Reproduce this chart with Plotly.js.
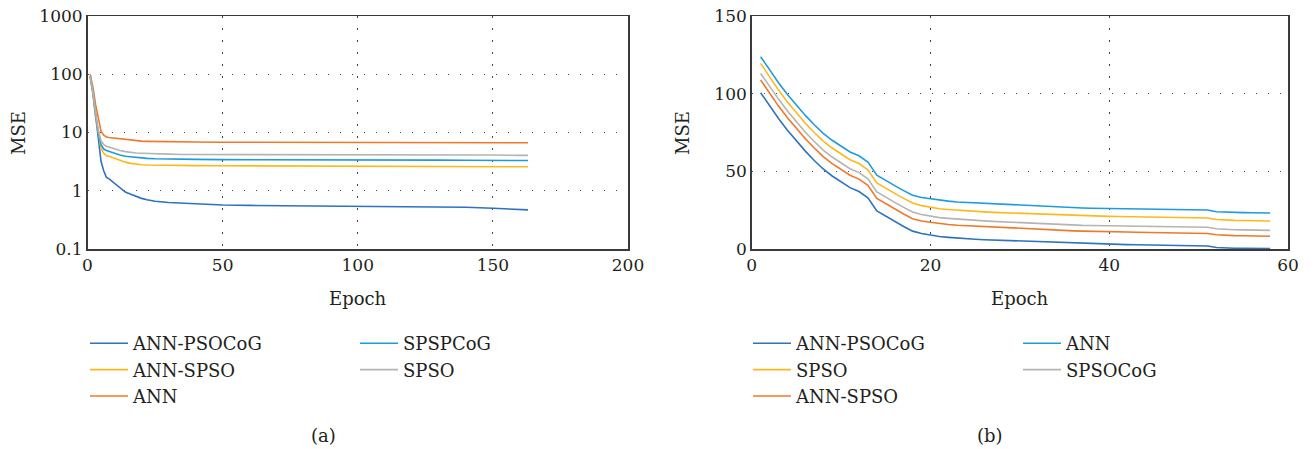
<!DOCTYPE html>
<html>
<head>
<meta charset="utf-8">
<script src="https://cdn.plot.ly/plotly-3.0.1.min.js"></script>
<style>
html,body{margin:0;padding:0;background:#fff;}
#chart{width:1314px;height:449px;}
</style>
</head>
<body>
<div id="chart"></div>
<script>
// ---------- Panel (a): log-scale MSE vs epoch ----------
const epochsA = [1,2,3,4,5,6,7,8,10,12,14,16,18,20,22,25,30,35,40,50,60,70,80,90,100,110,120,130,140,150,160,163];
const a_ANN_PSOCoG = [93,50,20,7,3.2,2.2,1.7,1.6,1.35,1.15,0.95,0.87,0.79,0.74,0.70,0.66,0.63,0.61,0.60,0.57,0.56,0.555,0.55,0.55,0.54,0.54,0.54,0.54,0.52,0.50,0.48,0.47];
const a_SPSPCoG   = [90,48,20,10,6.2,5.2,4.9,4.7,4.4,4.1,3.9,3.8,3.7,3.65,3.6,3.55,3.5,3.48,3.45,3.42,3.4,3.4,3.4,3.38,3.38,3.36,3.35,3.35,3.34,3.32,3.3,3.3];
const a_ANN_SPSO  = [88,46,18,9,5.4,4.4,4.0,3.9,3.6,3.3,3.1,2.95,2.85,2.8,2.77,2.75,2.72,2.7,2.7,2.68,2.67,2.66,2.65,2.65,2.64,2.63,2.62,2.61,2.6,2.59,2.58,2.58];
const a_SPSO      = [92,50,22,11,7.2,6.2,5.8,5.6,5.3,4.9,4.7,4.55,4.45,4.4,4.35,4.3,4.25,4.2,4.2,4.15,4.15,4.15,4.12,4.12,4.12,4.1,4.1,4.1,4.1,4.1,4.05,4.05];
const a_ANN       = [100,60,30,18,10.5,9,8.4,8.2,8.0,7.8,7.5,7.3,7.2,7.1,7.05,7.0,6.95,6.9,6.85,6.8,6.8,6.8,6.8,6.8,6.8,6.8,6.8,6.8,6.78,6.7,6.65,6.65];
const ticksA_vals = [0.1,1,10,100,1000];
const ticksA_text = ['0.1','1','10','100','1000'];

// ---------- Panel (b): linear MSE vs epoch ----------
const epochsB = [1,2,3,4,5,6,7,8,9,10,11,12,13,14,15,16,17,18,19,20,21,22,23,24,25,26,27,28,29,30,31,32,33,34,35,36,37,38,39,40,41,42,43,44,45,46,47,48,49,50,51,52,53,54,55,56,57,58];
const b_ANN_PSOCoG = [100.6,92,84,76.5,69.5,63,57,51.5,47,43,39.5,37,33,24.5,21,17.8,14.5,11.5,10,9,8,7.5,7,6.7,6.3,6,5.8,5.6,5.3,5.1,4.8,4.5,4.3,4.0,3.8,3.6,3.4,3.3,3.1,3.0,2.9,2.8,2.7,2.6,2.5,2.4,2.3,2.2,2.1,2.0,1.9,1.0,0.6,0.5,0.5,0.4,0.4,0.3];
const b_SPSO       = [119.5,110.5,102.3,94.6,87.5,81,75,69.5,65,61,57.5,55,51,42.5,39,35.8,32.6,29.6,27.9,26.8,25.9,25.4,24.9,24.6,24.2,23.9,23.6,23.4,23.1,22.9,22.6,22.3,22.1,21.8,21.6,21.4,21.2,21.1,21.0,21.0,20.9,20.8,20.7,20.6,20.5,20.4,20.3,20.2,20.1,20.0,20.0,19.0,18.6,18.4,18.3,18.2,18.1,18.0];
const b_ANN_SPSO   = [108.8,100,92,84.5,77.5,71,65,59.5,55,51,47.5,45,41,32.5,29,25.8,22.5,19.5,18,17.2,16.3,15.8,15.3,15,14.6,14.3,14.1,13.8,13.5,13.3,13,12.7,12.4,12.1,11.9,11.7,11.5,11.3,11.2,11.1,11,10.9,10.8,10.7,10.6,10.5,10.4,10.3,10.2,10.1,10.0,9.2,8.8,8.6,8.5,8.4,8.3,8.2];
const b_ANN        = [123.8,115,107,99.5,92.5,86,80,74.5,70,66,62.5,60,56,47.5,44,40.8,37.6,34.6,33.1,32.2,31.3,30.8,30.3,30.0,29.6,29.3,29.0,28.8,28.5,28.3,28.0,27.7,27.4,27.1,26.8,26.6,26.4,26.2,26.1,26.0,25.9,25.8,25.7,25.6,25.5,25.4,25.3,25.2,25.1,25.1,25.1,24.0,23.7,23.5,23.4,23.3,23.2,23.2];
const b_SPSOCoG    = [113,104.5,96.5,88.8,81.8,75.2,69.2,63.7,59.2,55.2,51.7,49.2,45.2,36.7,33.2,30,26.8,23.8,22.2,21.2,20.2,19.7,19.2,18.8,18.4,18.1,17.8,17.5,17.2,17.0,16.7,16.4,16.1,15.8,15.6,15.4,15.2,15.1,15.0,15.0,14.9,14.8,14.7,14.6,14.5,14.4,14.3,14.2,14.1,14.0,14.0,13.0,12.6,12.4,12.3,12.2,12.1,12.0];

const C_BLUE = '#2E72C0', C_LBLUE = '#1E9BE0', C_YEL = '#FFB81C', C_ORA = '#F07828', C_GRAY = '#B4B4B4';
const FONT = '"DejaVu Serif", serif';
const TXT = '#231F20';

function tr(x, y, name, color, xa, ya, lg) {
  return {x: x, y: y, name: name, type: 'scatter', mode: 'lines',
          line: {color: color, width: 1.6}, xaxis: xa, yaxis: ya, legend: lg};
}

const data = [
  tr(epochsA, a_ANN_PSOCoG, 'ANN-PSOCoG', C_BLUE, 'x', 'y', 'legend'),
  tr(epochsA, a_ANN_SPSO, 'ANN-SPSO', C_YEL, 'x', 'y', 'legend'),
  tr(epochsA, a_ANN, 'ANN', C_ORA, 'x', 'y', 'legend'),
  tr(epochsA, a_SPSPCoG, 'SPSPCoG', C_LBLUE, 'x', 'y', 'legend2'),
  tr(epochsA, a_SPSO, 'SPSO', C_GRAY, 'x', 'y', 'legend2'),
  tr(epochsB, b_ANN_PSOCoG, 'ANN-PSOCoG', C_BLUE, 'x2', 'y2', 'legend3'),
  tr(epochsB, b_SPSO, 'SPSO', C_YEL, 'x2', 'y2', 'legend3'),
  tr(epochsB, b_ANN_SPSO, 'ANN-SPSO', C_ORA, 'x2', 'y2', 'legend3'),
  tr(epochsB, b_ANN, 'ANN', C_LBLUE, 'x2', 'y2', 'legend4'),
  tr(epochsB, b_SPSOCoG, 'SPSOCoG', C_GRAY, 'x2', 'y2', 'legend4')
];

const H = 449, W = 1314;
const yDom = [(H - 249) / H, (H - 16) / H];
const axisCommon = {
  showline: true, mirror: true, linecolor: '#3a3a3a', linewidth: 1.5,
  ticks: '', showgrid: true, gridcolor: '#444', gridwidth: 1, griddash: '1.5px,10.5px',
  zeroline: false, tickfont: {family: FONT, size: 17, color: TXT}, fixedrange: true
};
function legendAt(xpx, ypx) {
  return {x: xpx / W, y: 1 - ypx / H, xanchor: 'left', yanchor: 'top', orientation: 'v',
          font: {family: FONT, size: 18, color: TXT}, bgcolor: 'rgba(0,0,0,0)', borderwidth: 0,
          itemwidth: 38, tracegroupgap: 0, itemclick: false, itemdoubleclick: false};
}
const lblFont = {family: FONT, size: 18, color: TXT};
function note(text, xpx, ypx, angle) {
  return {text: text, x: xpx / W, y: 1 - ypx / H, xref: 'paper', yref: 'paper', showarrow: false,
          xanchor: 'center', yanchor: 'middle', textangle: angle || 0, font: lblFont};
}

const layout = {
  width: W, height: H,
  margin: {l: 0, r: 0, t: 0, b: 0},
  paper_bgcolor: '#fff', plot_bgcolor: '#fff',
  showlegend: true,
  xaxis: Object.assign({}, axisCommon, {domain: [87.5 / W, 628 / W], range: [0, 200],
        tickvals: [0, 50, 100, 150, 200], anchor: 'y'}),
  yaxis: Object.assign({}, axisCommon, {domain: yDom, type: 'log', range: [-1, 3],
        tickvals: ticksA_vals, ticktext: ticksA_text, anchor: 'x'}),
  xaxis2: Object.assign({}, axisCommon, {domain: [751.7 / W, 1288 / W], range: [0, 60],
        tickvals: [0, 20, 40, 60], anchor: 'y2'}),
  yaxis2: Object.assign({}, axisCommon, {domain: yDom, range: [0, 150],
        tickvals: [0, 50, 100, 150], anchor: 'x2'}),
  legend: legendAt(85, 325),
  legend2: legendAt(355, 325),
  legend3: legendAt(748, 325),
  legend4: legendAt(1018, 325),
  annotations: [
    note('MSE', 18, 133, -90),
    note('MSE', 682, 133, -90),
    note('Epoch', 358, 298),
    note('Epoch', 1020, 298),
    note('(a)', 323, 435),
    note('(b)', 990, 435)
  ]
};

Plotly.newPlot('chart', data, layout, {displayModeBar: false, staticPlot: true});
</script>
</body>
</html>
